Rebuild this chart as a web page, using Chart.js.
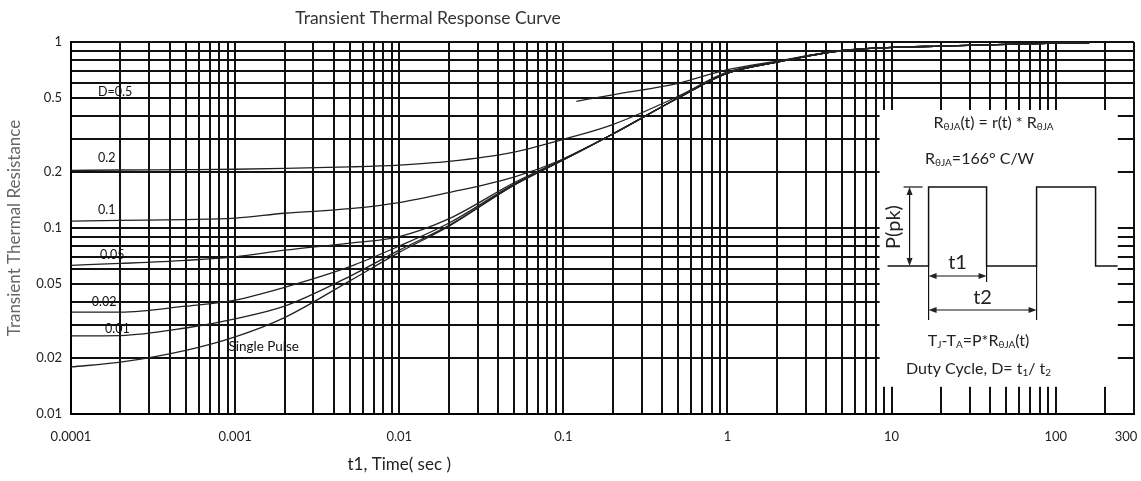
<!DOCTYPE html>
<html><head><meta charset="utf-8">
<script src="https://cdn.jsdelivr.net/npm/chart.js@4.4.1/dist/chart.umd.min.js"></script>
<style>html,body{margin:0;padding:0;background:#fff}canvas{display:block}</style>
</head><body>
<canvas id="c" width="1141" height="481"></canvas>
<script>
const FONT = 'Lato, "Open Sans", sans-serif';

// ---- data ----
const tCommon = [0.0001, 0.0002, 0.0005, 0.001, 0.002, 0.005, 0.01, 0.02, 0.05, 0.1, 0.2, 0.5, 1, 2, 5, 10, 20, 50, 100, 160];
const rSingle = [0.0179, 0.019, 0.022, 0.026, 0.033, 0.052, 0.074, 0.102, 0.17, 0.232, 0.32, 0.50, 0.68, 0.78, 0.90, 0.935, 0.95, 0.97, 0.985, 0.99];
const rD001   = [0.0263, 0.0264, 0.029, 0.0325, 0.038, 0.055, 0.076, 0.103, 0.17, 0.232, 0.32, 0.50, 0.68, 0.78, 0.90, 0.935, 0.95, 0.97, 0.985, 0.99];
const rD002   = [0.0353, 0.0353, 0.038, 0.041, 0.048, 0.062, 0.080, 0.106, 0.172, 0.233, 0.32, 0.50, 0.68, 0.78, 0.90, 0.935, 0.95, 0.97, 0.985, 0.99];
const rD005   = [0.063, 0.0645, 0.067, 0.070, 0.076, 0.083, 0.090, 0.112, 0.175, 0.235, 0.32, 0.50, 0.68, 0.78, 0.90, 0.935, 0.95, 0.97, 0.985, 0.99];
const rD01    = [0.109, 0.110, 0.111, 0.113, 0.120, 0.127, 0.137, 0.155, 0.188, 0.235, 0.32, 0.50, 0.68, 0.78, 0.90, 0.935, 0.95, 0.97, 0.985, 0.99];
const rD02    = [0.204, 0.205, 0.206, 0.207, 0.209, 0.213, 0.218, 0.228, 0.256, 0.300, 0.36, 0.51, 0.69, 0.78, 0.90, 0.935, 0.95, 0.97, 0.985, 0.99];
const tD05    = [0.12, 0.2, 0.5, 1, 2, 5, 10, 20, 50, 100, 160];
const rD05    = [0.48, 0.52, 0.60, 0.71, 0.79, 0.90, 0.935, 0.95, 0.97, 0.985, 0.99];

const xLabelValues = [0.0001, 0.001, 0.01, 0.1, 1, 10, 100, 300];
const xTickLabels  = ['0.0001', '0.001', '0.01', '0.1', '1', '10', '100', '300'];
const yLabelValues = [0.01, 0.02, 0.05, 0.1, 0.2, 0.5, 1];
const yTickLabels  = ['0.01', '0.02', '0.05', '0.1', '0.2', '0.5', '1'];

const curveLabelText = ['D=0.5', '0.2', '0.1', '0.05', '0.02', '0.01', 'Single Pulse'];
const curveLabelT    = [1.46e-4, 1.46e-4, 1.46e-4, 1.5e-4, 1.34e-4, 1.61e-4, 9.1e-4];
const curveLabelR    = [0.54, 0.238, 0.125, 0.0716, 0.040, 0.0287, 0.0230];

const insetT = [8.45, 239];
const insetR = [0.014, 0.431];

function gridVals(e0, e1, extra){
  const a = [];
  for (let e = e0; e <= e1; e++) for (let m = 1; m <= 9; m++) a.push(+(m * Math.pow(10, e)).toPrecision(3));
  return a.concat(extra);
}
const xGridValues = gridVals(-4, 1, [100, 200, 300]);
const yGridValues = gridVals(-2, -1, [1]);

function findLabel(v, vals, labels){
  for (let i = 0; i < vals.length; i++) if (Math.abs(v - vals[i]) / vals[i] < 1e-6) return labels[i];
  return '';
}
function pts(ts, rs){ return ts.map((t, i) => ({x: t, y: rs[i]})); }

const lineStyle = {borderColor: '#222', borderWidth: 1.3, pointRadius: 0, fill: false, cubicInterpolationMode: 'monotone'};

function rich(ctx, parts, x, y, align, size){
  const sub = Math.round(size * 0.6);
  let w = 0;
  parts.forEach(p => { ctx.font = (p[1] ? sub : size) + 'px ' + FONT; w += ctx.measureText(p[0]).width; });
  let cx = align === 'center' ? x - w / 2 : (align === 'right' ? x - w : x);
  ctx.textAlign = 'left'; ctx.textBaseline = 'alphabetic';
  parts.forEach(p => {
    ctx.font = (p[1] ? sub : size) + 'px ' + FONT;
    ctx.fillText(p[0], cx, y + (p[1] ? size * 0.15 : 0));
    cx += ctx.measureText(p[0]).width;
  });
}
function arrowHead(ctx, x, y, dir){
  const l = 8, h = 3;
  ctx.beginPath();
  if (dir === 'up'){ ctx.moveTo(x, y); ctx.lineTo(x - h, y + l); ctx.lineTo(x + h, y + l); }
  if (dir === 'down'){ ctx.moveTo(x, y); ctx.lineTo(x - h, y - l); ctx.lineTo(x + h, y - l); }
  if (dir === 'left'){ ctx.moveTo(x, y); ctx.lineTo(x + l, y - h); ctx.lineTo(x + l, y + h); }
  if (dir === 'right'){ ctx.moveTo(x, y); ctx.lineTo(x - l, y - h); ctx.lineTo(x - l, y + h); }
  ctx.closePath(); ctx.fill();
}
function seg(ctx, x1, y1, x2, y2){ ctx.beginPath(); ctx.moveTo(x1, y1); ctx.lineTo(x2, y2); ctx.stroke(); }

const decor = {
  id: 'decor',
  beforeDatasetsDraw(chart){
    const {ctx, scales: {x, y}} = chart;
    const L = x.getPixelForValue(insetT[0]), R = x.getPixelForValue(insetT[1]);
    const T = y.getPixelForValue(insetR[1]), B = y.getPixelForValue(insetR[0]);
    ctx.save(); ctx.fillStyle = '#fff'; ctx.fillRect(L, T, R - L, B - T); ctx.restore();
  },
  afterDraw(chart){
    const {ctx, scales: {x, y}} = chart;
    ctx.save();
    ctx.fillStyle = '#333';
    ctx.textAlign = 'center'; ctx.textBaseline = 'middle';
    ctx.font = '17.5px ' + FONT;
    ctx.fillText('Transient Thermal Response Curve', 428, 18);
    ctx.fillStyle = '#222';
    ctx.font = '17px ' + FONT;
    ctx.fillText('t1, Time( sec )', x.getPixelForValue(0.01), 465);
    ctx.font = '13px ' + FONT;
    ctx.fillText(xTickLabels[xTickLabels.length - 1], x.getPixelForValue(xLabelValues[xLabelValues.length - 1]) - 8, 437);

    // curve labels
    ctx.textAlign = 'left'; ctx.fillStyle = '#111';
    curveLabelText.forEach((s, i) => {
      ctx.font = (i === curveLabelText.length - 1 ? 13.5 : 12.5) + 'px ' + FONT;
      ctx.fillText(s, x.getPixelForValue(curveLabelT[i]), y.getPixelForValue(curveLabelR[i]));
    });

    // inset
    const L = x.getPixelForValue(insetT[0]);
    const T = y.getPixelForValue(insetR[1]);
    ctx.fillStyle = '#222'; ctx.strokeStyle = '#111'; ctx.lineWidth = 1.5;
    rich(ctx, [['R', 0], ['θJA', 1], ['(t) = r(t) * R', 0], ['θJA', 1]], L + 114, T + 18, 'center', 16);
    rich(ctx, [['R', 0], ['θJA', 1], ['=166° C/W', 0]], L + 100, T + 54, 'center', 16);
    const yB = T + 156, yH = T + 77;
    const xs = [L + 8, L + 49, L + 107, L + 157, L + 216, L + 238];
    ctx.beginPath();
    ctx.moveTo(xs[0], yB); ctx.lineTo(xs[1], yB); ctx.lineTo(xs[1], yH); ctx.lineTo(xs[2], yH); ctx.lineTo(xs[2], yB);
    ctx.lineTo(xs[3], yB); ctx.lineTo(xs[3], yH); ctx.lineTo(xs[4], yH); ctx.lineTo(xs[4], yB); ctx.lineTo(xs[5], yB);
    ctx.stroke();
    ctx.lineWidth = 1.2;
    // P(pk)
    seg(ctx, L + 24, yH, L + 43, yH);
    seg(ctx, L + 30, yH + 4, L + 30, yB - 4);
    arrowHead(ctx, L + 30, yH, 'up'); arrowHead(ctx, L + 30, yB, 'down');
    // extension lines
    seg(ctx, xs[1], yB, xs[1], T + 210);
    seg(ctx, xs[2], yB, xs[2], T + 172);
    seg(ctx, xs[3], yB, xs[3], T + 210);
    // t1, t2 arrows
    seg(ctx, xs[1] + 4, T + 166, xs[2] - 4, T + 166);
    arrowHead(ctx, xs[1], T + 166, 'left'); arrowHead(ctx, xs[2], T + 166, 'right');
    seg(ctx, xs[1] + 4, T + 200, xs[3] - 4, T + 200);
    arrowHead(ctx, xs[1], T + 200, 'left'); arrowHead(ctx, xs[3], T + 200, 'right');
    ctx.textAlign = 'center'; ctx.textBaseline = 'middle';
    ctx.font = '20px ' + FONT;
    ctx.fillText('t1', L + 78, T + 153);
    ctx.fillText('t2', L + 103, T + 188);
    ctx.save();
    ctx.translate(L + 14, T + 117); ctx.rotate(-Math.PI / 2);
    ctx.fillText('P(pk)', 0, 0);
    ctx.restore();
    rich(ctx, [['T', 0], ['J', 1], ['-T', 0], ['A', 1], ['=P*R', 0], ['θJA', 1], ['(t)', 0]], L + 99, T + 236, 'center', 16);
    rich(ctx, [['Duty Cycle, D= t', 0], ['1', 1], ['/ t', 0], ['2', 1]], L + 99, T + 264, 'center', 16);
    ctx.restore();
  }
};

new Chart(document.getElementById('c'), {
  type: 'line',
  data: {
    datasets: [
      Object.assign({label: 'D=0.5', data: pts(tD05, rD05)}, lineStyle),
      Object.assign({label: 'D=0.2', data: pts(tCommon, rD02)}, lineStyle),
      Object.assign({label: 'D=0.1', data: pts(tCommon, rD01)}, lineStyle),
      Object.assign({label: 'D=0.05', data: pts(tCommon, rD005)}, lineStyle),
      Object.assign({label: 'D=0.02', data: pts(tCommon, rD002)}, lineStyle),
      Object.assign({label: 'D=0.01', data: pts(tCommon, rD001)}, lineStyle),
      Object.assign({label: 'Single Pulse', data: pts(tCommon, rSingle)}, lineStyle)
    ]
  },
  options: {
    responsive: false,
    animation: false,
    layout: {padding: {top: 42, right: 7, bottom: 0, left: 0}},
    plugins: {legend: {display: false}, title: {display: false}, tooltip: {enabled: false}},
    scales: {
      x: {
        type: 'logarithmic', min: 0.0001, max: 300,
        afterBuildTicks: s => { s.ticks = xGridValues.map(v => ({value: v})); },
        afterFit: s => { s.height = 67; s.paddingLeft = 0; s.paddingRight = 0; },
        grid: {color: '#111', lineWidth: 2, drawTicks: false},
        border: {display: true, color: '#000', width: 2},
        ticks: {
          autoSkip: false, maxRotation: 0, minRotation: 0, padding: 15, color: '#222',
          font: {family: FONT, size: 13},
          callback: v => (v === 300 ? '' : findLabel(v, xLabelValues, xTickLabels))
        }
      },
      y: {
        type: 'logarithmic', min: 0.01, max: 1,
        afterBuildTicks: s => { s.ticks = yGridValues.map(v => ({value: v})); },
        afterFit: s => { s.width = 71; s.paddingTop = 0; s.paddingBottom = 0; },
        grid: {color: '#111', lineWidth: 2, drawTicks: false},
        border: {display: true, color: '#000', width: 2},
        title: {display: true, text: 'Transient Thermal Resistance', color: '#666',
                font: {family: FONT, size: 17}, padding: {top: 4, bottom: 0}},
        ticks: {
          autoSkip: false, padding: 9, color: '#222',
          font: {family: FONT, size: 13},
          callback: v => findLabel(v, yLabelValues, yTickLabels)
        }
      }
    }
  },
  plugins: [decor]
});
</script>
</body></html>
